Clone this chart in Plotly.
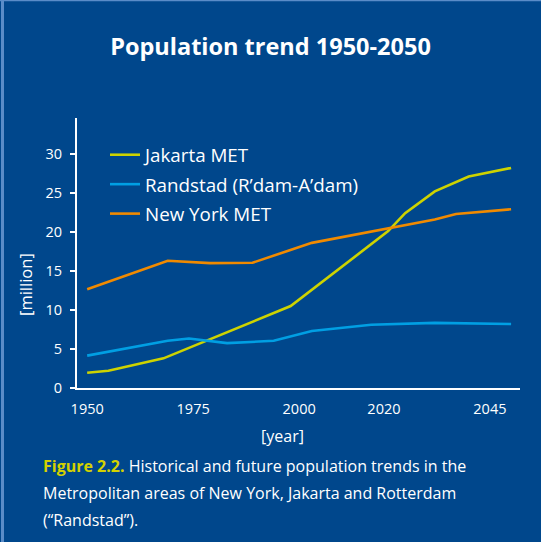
import plotly.graph_objects as go

# Population (million) by year for each metropolitan area
jakarta_years = [1950, 1955, 1968, 1998, 2021, 2025, 2032, 2040, 2050]
jakarta_pop = [1.95, 2.2, 3.8, 10.5, 20.1, 22.4, 25.2, 27.1, 28.2]

randstad_years = [1950, 1969, 1974, 1983, 1994, 2003, 2017, 2032, 2050]
randstad_pop = [4.15, 6.05, 6.35, 5.75, 6.05, 7.3, 8.1, 8.35, 8.2]

newyork_years = [1950, 1969, 1979, 1989, 2003, 2032, 2037, 2050]
newyork_pop = [12.65, 16.3, 16.0, 16.05, 18.6, 21.6, 22.3, 22.9]

x_ticks = [1950, 1975, 2000, 2020, 2045]
y_ticks = [0, 5, 10, 15, 20, 25, 30]

BG = "#00478C"
FONT = "Open Sans"
W, H = 541, 542
ML, MR, MT, MB = 77, 21, 118, 154
PW, PH = W - ML - MR, H - MT - MB


def px_x(p):
    return (p - ML) / PW


def px_y(p):
    return (H - MB - p) / PH


fig = go.Figure()
series = [
    ("Jakarta MET", jakarta_years, jakarta_pop, "#CDD300"),
    ("Randstad (R\u2019dam-A\u2019dam)", randstad_years, randstad_pop, "#009FE3"),
    ("New York MET", newyork_years, newyork_pop, "#F08A00"),
]
for i, (name, xs, ys, col) in enumerate(series):
    fig.add_trace(go.Scatter(
        x=xs, y=ys, name=name, mode="lines", legendgroup=f"g{i}",
        line=dict(color=col, width=2.6),
    ))

fig.update_layout(
    width=W, height=H,
    paper_bgcolor=BG, plot_bgcolor=BG,
    margin=dict(l=ML, r=MR, t=MT, b=MB),
    font=dict(family=FONT, color="white", size=14),
    title=dict(text="<b>Population trend 1950-2050</b>", x=0.5, xanchor="center",
               y=1 - 47 / H, yanchor="middle", font=dict(size=23.5, color="white")),
    showlegend=True,
    legend=dict(x=px_x(105), y=px_y(136), xanchor="left", yanchor="top",
                bgcolor="rgba(0,0,0,0)", font=dict(size=18.8, color="white"),
                tracegroupgap=2),
    xaxis=dict(range=[1947.6, 2052.1], tickmode="array", tickvals=x_ticks,
               showgrid=False, zeroline=False, showline=True, linecolor="white",
               linewidth=2, ticks="", tickfont=dict(size=14.5), ticklabelstandoff=7),
    yaxis=dict(range=[0, 34.6], tickmode="array", tickvals=y_ticks,
               showgrid=False, zeroline=False, showline=True, linecolor="white",
               linewidth=2, ticks="outside", ticklen=5, tickwidth=2, tickcolor="white",
               tickfont=dict(size=14.5), ticklabelstandoff=5),
)

# Axis titles
fig.add_annotation(text="[year]", xref="paper", yref="paper", x=px_x(282), y=px_y(436),
                   xanchor="center", yanchor="middle", showarrow=False,
                   font=dict(size=16, color="white"))
fig.add_annotation(text="[million]", xref="paper", yref="paper", x=px_x(25), y=px_y(285),
                   xanchor="center", yanchor="middle", showarrow=False, textangle=-90,
                   font=dict(size=16.5, color="white"))

# Lighter frame edges on the left and top of the panel
fig.add_shape(type="line", xref="paper", yref="paper", x0=px_x(2.5), x1=px_x(2.5),
              y0=px_y(H), y1=px_y(0), line=dict(color="#5A8CC8", width=3))
fig.add_shape(type="line", xref="paper", yref="paper", x0=px_x(0), x1=px_x(W),
              y0=px_y(0.5), y1=px_y(0.5), line=dict(color="#5A8CC8", width=1.5))

# Caption below the chart
caption = [
    "<b><span style='color:#D4D100'>Figure 2.2.</span></b> Historical and future population trends in the",
    "Metropolitan areas of New York, Jakarta and Rotterdam",
    "(\u201cRandstad\u201d).",
]
for k, line in enumerate(caption):
    fig.add_annotation(text=line, xref="paper", yref="paper", x=px_x(41),
                       y=px_y(466 + 27 * k), xanchor="left", yanchor="middle",
                       showarrow=False, align="left", font=dict(size=16, color="white"))

fig.write_html("out.html")
